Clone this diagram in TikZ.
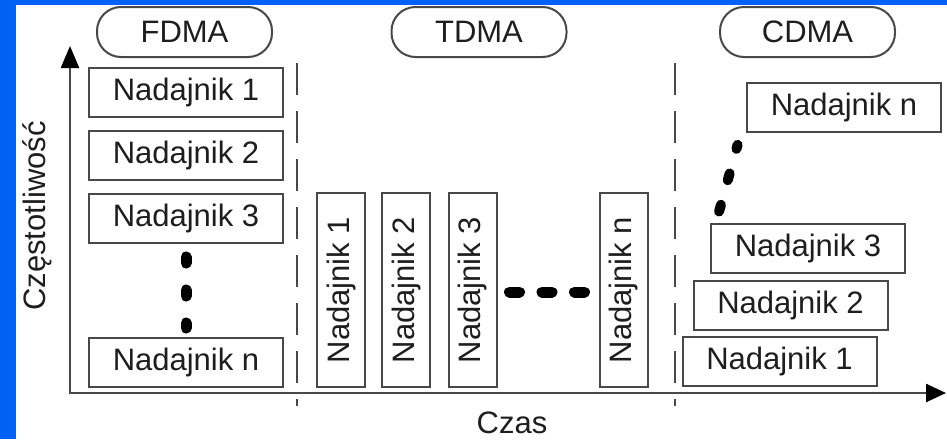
\documentclass[tikz,border=0pt]{standalone}
\usepackage{fontspec}
\setmainfont{Liberation Sans}
\usetikzlibrary{arrows.meta,calc}
\definecolor{bg}{RGB}{0,98,245}
\definecolor{ln}{RGB}{72,72,72}
\definecolor{tx}{RGB}{30,30,30}
\begin{document}
\begin{tikzpicture}[x=1pt,y=-1pt,
  lbl/.style={font=\fontsize{31}{37}\selectfont, text=tx},
  box/.style={lbl, draw=ln, line width=2pt, fill=white, inner sep=0pt, minimum width=194pt, minimum height=49pt},
  vbox/.style={box, rotate=90, minimum height=48pt},
  pill/.style={lbl, draw=ln, line width=2pt, rounded corners=24pt, inner sep=0pt, minimum width=175pt, minimum height=50pt},
  sep/.style={draw=ln, line width=2pt, dash pattern=on 32pt off 16pt},
  dotline/.style={line width=11pt, line cap=round, draw=black},
  axis/.style={draw=ln, line width=2.5pt, {Triangle[length=22pt,width=18pt,fill=black,color=black]}-{Triangle[length=20pt,width=18pt,fill=black,color=black]}}
]
\useasboundingbox (0,0) rectangle (947,439);
\fill[bg] (0,0) rectangle (947,439);
\fill[white] (16,5) rectangle (947,439);

% headers
\node[pill] (fdma) at (184.5,32) {FDMA};
\node[pill] (tdma) at (479,32) {TDMA};
\node[pill] (cdma) at (807.5,32) {CDMA};

% axes
\coordinate (o) at (70,393);
\coordinate (ytip) at (70,46);
\coordinate (xtip) at (946,393);
\draw[axis] (ytip) -- (o) -- (xtip);
\node[lbl] (czas) at (512,423) {Czas};
\node[lbl, rotate=90] (czest) at (37,216) {Częstotliwość};

% separators
\coordinate (s1a) at (297,63);
\coordinate (s1b) at (297,406);
\coordinate (s2a) at (675,63);
\coordinate (s2b) at (675,406);
\draw[sep] (s1a) -- (s1b);
\draw[sep] (s2a) -- (s2b);

% FDMA
\node[box] (f1) at (186,92.5) {Nadajnik 1};
\node[box] (f2) at (186,155.5) {Nadajnik 2};
\node[box] (f3) at (186,218) {Nadajnik 3};
\node[box] (fn) at (186,362) {Nadajnik n};
\draw[dotline, dash pattern=on 6pt off 27pt, shorten <=13.5pt, shorten >=8.5pt] (f3.south) -- (fn.north);

% TDMA
\node[vbox] (t1) at (341,290) {Nadajnik 1};
\node[vbox] (t2) at (406,290) {Nadajnik 2};
\node[vbox] (t3) at (472.5,290) {Nadajnik 3};
\node[vbox] (tn) at (623.5,290) {Nadajnik n};
\draw[dotline, dash pattern=on 10pt off 22.5pt, shorten <=12pt, shorten >=11pt] ([yshift=-2pt]t3.south) -- ([yshift=-2pt]tn.north);

% CDMA
\node[box] (cn) at (844,107) {Nadajnik n};
\node[box] (c3) at (808,248) {Nadajnik 3};
\node[box] (c2) at (790.5,305) {Nadajnik 2};
\node[box] (c1) at (779.5,361.5) {Nadajnik 1};
\draw[dotline, line width=10pt, dash pattern=on 7pt off 25.5pt, shorten <=11.4pt, shorten >=12.8pt] ([xshift=6pt]c3.north west) -- ([xshift=-5pt]cn.south west);
\end{tikzpicture}
\end{document}
